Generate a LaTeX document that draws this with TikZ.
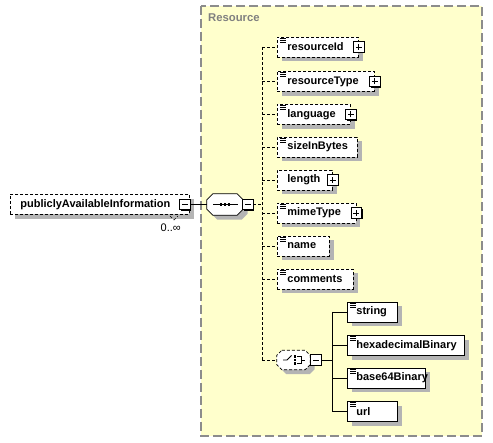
\documentclass[tikz,border=0pt]{standalone}
\usepackage{fontspec}
\setmainfont{Liberation Sans}
\definecolor{bgyellow}{RGB}{255,255,204}
\definecolor{shadowgray}{RGB}{180,180,180}
\definecolor{framegray}{RGB}{140,140,140}
\definecolor{labelgray}{RGB}{128,128,128}
\tikzset{
  elem/.style={draw=black, fill=white, line width=0.8pt, minimum height=20pt,
    inner xsep=0pt, inner ysep=0pt, align=left, anchor=west,
    font=\fontsize{11}{13}\selectfont\bfseries},
  opt/.style={dash pattern=on 3pt off 2pt},
  pm/.style={draw=black, fill=white, line width=0.8pt},
  anchorbox/.style={draw=none, minimum height=21pt, inner sep=0pt},
  octline/.style={draw=black, fill=white, line width=0.8pt},
  conn/.style={line width=0.8pt},
}
% #1 name, #2 x, #3 y, #4 width (number), #5 style, #6 text
\newcommand\elemnode[6]{%
  \fill[shadowgray] (#2+4.5,#3-10+4.5) rectangle (#2+#4+4.5,#3+10+4.5);
  \node[elem, #5, text width=#4pt] (#1) at (#2,#3) {#6};}
\newcommand\pmbox[1]{\fill[black] ([xshift=1pt,yshift=-1pt]#1.south west) rectangle ([xshift=1pt,yshift=-1pt]#1.north east);
  \draw[pm] (#1.south west) rectangle (#1.north east);}
\newcommand\minussign[1]{\pmbox{#1}\draw[line width=0.8pt] ([xshift=-3pt]#1.center) -- ([xshift=3pt]#1.center);}
\newcommand\plussign[1]{\minussign{#1}\draw[line width=0.8pt] ([yshift=-3pt]#1.center) -- ([yshift=3pt]#1.center);}
\newcommand\docicon[1]{\foreach \dy in {1.5,3.5,5.5}{\draw[line width=0.7pt] ([xshift=3pt,yshift=-\dy pt]#1.north west) -- ([xshift=8.5pt,yshift=-\dy pt]#1.north west);}}
\newcommand\octshape[5]{\path[#5] ([xshift=#2,xshift=#3,yshift=#4]#1.north west) -- ([xshift=-#2,xshift=#3,yshift=#4]#1.north east) -- ([yshift=-#2,xshift=#3,yshift=#4]#1.north east) -- ([yshift=#2,xshift=#3,yshift=#4]#1.south east) -- ([xshift=-#2,xshift=#3,yshift=#4]#1.south east) -- ([xshift=#2,xshift=#3,yshift=#4]#1.south west) -- ([yshift=#2,xshift=#3,yshift=#4]#1.south west) -- ([yshift=-#2,xshift=#3,yshift=#4]#1.north west) -- cycle;}
\begin{document}
\begin{tikzpicture}[x=1pt,y=-1pt]
\useasboundingbox (0,0) rectangle (493,443);
% group box
\fill[bgyellow] (201,6) rectangle (482,436);
\draw[framegray, dash pattern=on 9pt off 4pt, line width=1.2pt] (201,6) rectangle (482,436);
\node[anchor=west, text=labelgray, inner sep=0pt, font=\fontsize{11.3}{13}\selectfont\bfseries] (reslbl) at (208,18) {Resource};

% root element
\elemnode{pai}{10}{204.5}{179}{opt}{\hspace*{10pt}publiclyAvailableInformation}
\node[minimum size=10pt, inner sep=0pt] (paim) at ([xshift=-5pt]pai.east) {};
\minussign{paim}
\draw[opt, line width=0.6pt] (170,216) -- (174,220) -- (178,216);
\node[anchor=east, inner sep=0pt, font=\fontsize{11}{13}\selectfont] (occ) at (181,228) {0..∞};

% sequence
\node[anchorbox, minimum width=36pt] (seq) at (225,204.5) {};
\octshape{seq}{6pt}{4.5pt}{-4.5pt}{fill=shadowgray}
\octshape{seq}{6pt}{0pt}{0pt}{octline}
\begin{scope}[shift={(seq.center)}]
  \draw[line width=0.8pt] (-12,0) -- (13,0);
  \foreach \dx in {-4,0,4} \fill (\dx-1.3,-1.3) rectangle ++(2.6,2.6);
\end{scope}
\node[minimum size=10pt, inner sep=0pt] (seqm) at (248,204.5) {};
\minussign{seqm}
\draw[conn] (paim.east) -- (seq.west);

% children
\elemnode{rid}{277}{47}{81}{opt}{\hspace*{10pt}resourceId}
\elemnode{rtype}{277}{81.5}{97}{opt}{\hspace*{10pt}resourceType}
\elemnode{lang}{277}{114.5}{73}{opt}{\hspace*{10pt}language}
\elemnode{size}{277}{147}{80}{opt}{\hspace*{10pt}sizeInBytes}
\elemnode{len}{277}{180}{55}{opt}{\hspace*{10pt}length}
\elemnode{mime}{277}{213}{78.5}{opt}{\hspace*{10pt}mimeType}
\elemnode{name}{277}{246}{52}{opt}{\hspace*{10pt}name}
\elemnode{comm}{277}{279}{76}{opt}{\hspace*{10pt}comments}
\foreach \n in {rid,rtype,lang,size,mime,name,comm} {\docicon{\n}}
\foreach \n in {rid,rtype,lang,len,mime} {
  \node[minimum size=10pt, inner sep=0pt] (\n p) at (\n.east) {};
  \plussign{\n p}
}

% choice
\node[anchorbox, minimum width=33pt, minimum height=19pt] (cho) at (293.5,360) {};
\octshape{cho}{5pt}{4.5pt}{-4.5pt}{fill=shadowgray}
\octshape{cho}{5pt}{0pt}{0pt}{octline,opt}
\begin{scope}[shift={(cho.center)}]
  \draw[line width=0.8pt] (-10.5,0) -- (-6.5,0) -- (-2,-4.5);
  \foreach \dy in {-3.5,0,3.5} \fill (0,\dy-1.1) rectangle ++(2.2,2.2);
  \draw[line width=0.8pt] (3.5,-3.5) -- (7.5,-3.5) -- (7.5,3.5) -- (3.5,3.5);
  \draw[line width=0.8pt] (7.5,0) -- (11,0);
\end{scope}
\node[minimum size=10pt, inner sep=0pt] (chom) at (316,360) {};
\minussign{chom}

% choice children
\elemnode{str}{347}{312}{50}{}{\hspace*{9pt}string}
\elemnode{hex}{347}{345.5}{117}{}{\hspace*{9pt}hexadecimalBinary}
\elemnode{b64}{347}{378}{78}{}{\hspace*{9pt}base64Binary}
\elemnode{url}{347}{411.5}{50}{}{\hspace*{9pt}url}
\foreach \n in {str,hex,b64,url} {\docicon{\n}}

% sequence connectors
\coordinate (bus) at (262,204.5);
\draw[conn, opt] (seqm.east) -- (bus);
\draw[conn, opt] (bus |- rid.west) -- (bus |- cho.west);
\foreach \n in {rid,rtype,lang,size,len,mime,name,comm,cho} {
  \draw[conn, opt] (bus |- \n.west) -- (\n.west);
}
% choice connectors
\coordinate (cbus) at (332,360);
\draw[conn] (chom.east) -- (cbus);
\draw[conn] (cbus |- str.west) -- (cbus |- url.west);
\foreach \n in {str,hex,b64,url} {
  \draw[conn] (cbus |- \n.west) -- (\n.west);
}
\end{tikzpicture}
\end{document}
